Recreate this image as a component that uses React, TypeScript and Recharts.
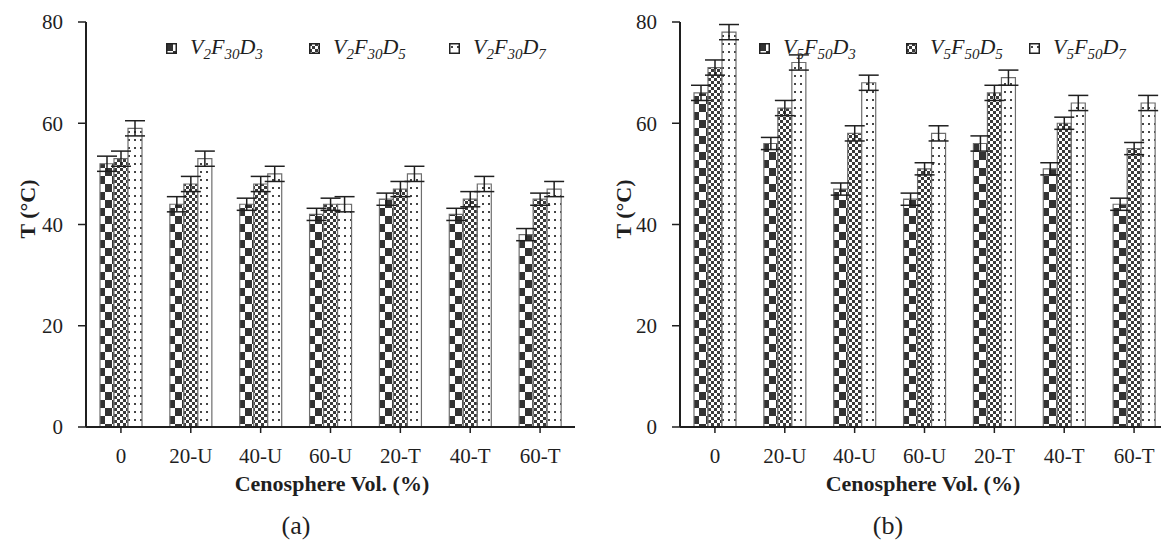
import React from "react";
import { BarChart, Bar, XAxis, YAxis, ErrorBar } from "recharts";

const categories = ["0", "20-U", "40-U", "60-U", "20-T", "40-T", "60-T"];
const yTicks = [0, 20, 40, 60, 80];

// panel (a): V2F30
const aD3 = [52, 44, 44, 42, 45, 42, 38];
const aD5 = [53, 48, 48, 44, 47, 45, 45];
const aD7 = [59, 53, 50, 44, 50, 48, 47];
const aErr3 = [1.5, 1.5, 1.2, 1.2, 1.2, 1.2, 1.2];
const aErr5 = [1.5, 1.5, 1.5, 1.2, 1.5, 1.5, 1.2];
const aErr7 = [1.5, 1.5, 1.5, 1.5, 1.5, 1.5, 1.5];

// panel (b): V5F50
const bD3 = [66, 56, 47, 45, 56, 51, 44];
const bD5 = [71, 63, 58, 51, 66, 60, 55];
const bD7 = [78, 72, 68, 58, 69, 64, 64];
const bErr3 = [1.5, 1.2, 1.2, 1.2, 1.5, 1.2, 1.2];
const bErr5 = [1.5, 1.5, 1.5, 1.2, 1.5, 1.2, 1.2];
const bErr7 = [1.5, 1.5, 1.5, 1.5, 1.5, 1.5, 1.5];

const fills = ["url(#pBig)", "url(#pSmall)", "url(#pDots)"];
const font = "Liberation Serif, serif";
const ink = "#1f1f1f";

function rows(d3: number[], d5: number[], d7: number[], e3: number[], e5: number[], e7: number[]) {
  return categories.map((c, i) => ({
    cat: c,
    d3: d3[i],
    d5: d5[i],
    d7: d7[i],
    e3: e3[i],
    e5: e5[i],
    e7: e7[i],
  }));
}

const dataA = rows(aD3, aD5, aD7, aErr3, aErr5, aErr7);
const dataB = rows(bD3, bD5, bD7, bErr3, bErr5, bErr7);

function Patterns() {
  return (
    <svg width={0} height={0} style={{ position: "absolute" }}>
      <defs>
        <pattern id="pBig" patternUnits="userSpaceOnUse" width={14} height={16}>
          <rect width={14} height={16} fill="#fff" />
          <rect x={0} y={0} width={7} height={8} fill="#333" />
          <rect x={7} y={8} width={7} height={8} fill="#333" />
        </pattern>
        <pattern id="pSmall" patternUnits="userSpaceOnUse" width={6} height={6}>
          <rect width={6} height={6} fill="#fff" />
          <rect x={0} y={0} width={3} height={3} fill="#3a3a3a" />
          <rect x={3} y={3} width={3} height={3} fill="#3a3a3a" />
        </pattern>
        <pattern id="pDots" patternUnits="userSpaceOnUse" width={6} height={8}>
          <rect width={6} height={8} fill="#fff" />
          <rect x={2} y={3} width={2} height={2} fill="#444" />
        </pattern>
      </defs>
    </svg>
  );
}

function Panel({ data }: { data: any[] }) {
  const keys = ["d3", "d5", "d7"];
  const errs = ["e3", "e5", "e7"];
  return (
    <BarChart
      width={575}
      height={480}
      data={data}
      margin={{ top: 22, right: 0, left: 0, bottom: 23 }}
      barGap={0}
      barSize={14}
    >
      <XAxis
        dataKey="cat"
        height={30}
        axisLine={{ stroke: ink, strokeWidth: 2 }}
        tickLine={{ stroke: ink, strokeWidth: 1.5 }}
        tickSize={6}
        tickMargin={15}
        tick={{ fontSize: 21, fill: ink, fontFamily: font }}
        interval={0}
      />
      <YAxis
        width={86}
        domain={[0, 80]}
        ticks={yTicks}
        axisLine={{ stroke: ink, strokeWidth: 2 }}
        tickLine={{ stroke: ink, strokeWidth: 1.5 }}
        tickSize={8}
        tickMargin={15}
        tick={{ fontSize: 21, fill: ink, fontFamily: font }}
      />
      {keys.map((k, i) => (
        <Bar
          key={k}
          dataKey={k}
          fill={fills[i]}
          stroke="#6e6e6e"
          strokeWidth={1.2}
          isAnimationActive={false}
        >
          <ErrorBar dataKey={errs[i]} width={10} stroke={ink} strokeWidth={1.5} />
        </Bar>
      ))}
    </BarChart>
  );
}

function LegendItem({ x, fill, v, f, d }: { x: number; fill: string; v: string; f: string; d: string }) {
  const sub: React.CSSProperties = { fontSize: 15, position: "relative", top: 5 };
  return (
    <div style={{ position: "absolute", left: x, top: 33, height: 30, display: "flex", alignItems: "center", whiteSpace: "nowrap" }}>
      <svg width={11} height={11} style={{ marginRight: 13 }}>
        <rect x={0.75} y={0.75} width={9.5} height={9.5} fill={fill} stroke="#222" strokeWidth={1.5} />
      </svg>
      <span style={{ fontFamily: font, fontStyle: "italic", fontSize: 22, color: ink, lineHeight: "30px" }}>
        V<span style={sub}>{v}</span>F<span style={sub}>{f}</span>D<span style={sub}>{d}</span>
      </span>
    </div>
  );
}

const legendA = [
  { x: 166, d: "3" },
  { x: 309, d: "5" },
  { x: 449, d: "7" },
];
const legendB = [
  { x: 759, d: "3" },
  { x: 906, d: "5" },
  { x: 1029, d: "7" },
];

function Texts({ cx, tx, yx, tag }: { cx: number; tx: number; yx: number; tag: string }) {
  return (
    <>
      <div
        style={{
          position: "absolute",
          left: yx - 50,
          top: 209 - 14,
          width: 100,
          height: 28,
          textAlign: "center",
          transform: "rotate(-90deg)",
          fontFamily: font,
          fontWeight: "bold",
          fontSize: 22,
          lineHeight: "28px",
          color: ink,
        }}
      >
        T (°C)
      </div>
      <div
        style={{
          position: "absolute",
          left: cx - 150,
          top: 470,
          width: 300,
          textAlign: "center",
          fontFamily: font,
          fontWeight: "bold",
          fontSize: 22,
          lineHeight: "28px",
          color: ink,
        }}
      >
        Cenosphere Vol. (%)
      </div>
      <div
        style={{
          position: "absolute",
          left: tx - 50,
          top: 509,
          width: 100,
          textAlign: "center",
          fontFamily: font,
          fontSize: 26,
          lineHeight: "34px",
          color: ink,
        }}
      >
        {tag}
      </div>
    </>
  );
}

export default function App() {
  return (
    <div
      style={{
        position: "absolute",
        left: 0,
        top: 0,
        width: 1161,
        height: 543,
        overflow: "hidden",
        background: "#fff",
      }}
    >
      <Patterns />
      <div style={{ position: "absolute", left: 0, top: 0 }}>
        <Panel data={dataA} />
      </div>
      <div style={{ position: "absolute", left: 594, top: 0 }}>
        <Panel data={dataB} />
      </div>
      {legendA.map((l, i) => (
        <LegendItem key={"a" + i} x={l.x} fill={fills[i]} v="2" f="30" d={l.d} />
      ))}
      {legendB.map((l, i) => (
        <LegendItem key={"b" + i} x={l.x} fill={fills[i]} v="5" f="50" d={l.d} />
      ))}
      <Texts cx={332} tx={296} yx={28} tag="(a)" />
      <Texts cx={923} tx={888} yx={624} tag="(b)" />
    </div>
  );
}
